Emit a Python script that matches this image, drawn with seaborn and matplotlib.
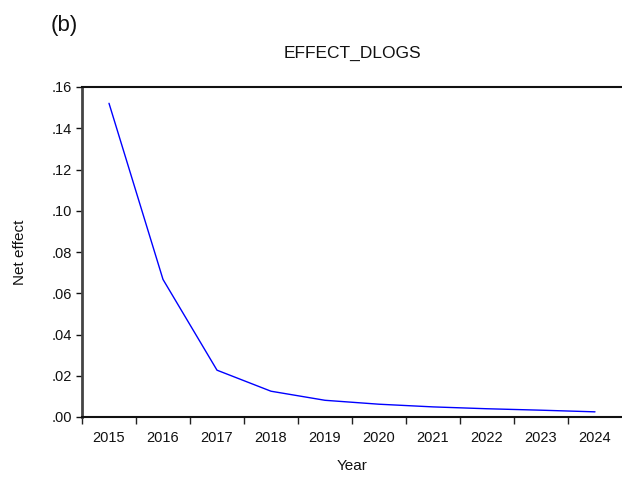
import matplotlib
matplotlib.use("Agg")
import matplotlib.pyplot as plt
import matplotlib.ticker as mticker
import seaborn as sns
import pandas as pd

years = [2015, 2016, 2017, 2018, 2019, 2020, 2021, 2022, 2023, 2024]
net_effect = [0.1521, 0.0667, 0.0227, 0.0125, 0.0081, 0.0062, 0.0049, 0.0040, 0.0033, 0.0025]
y_ticks = [0.00, 0.02, 0.04, 0.06, 0.08, 0.10, 0.12, 0.14, 0.16]

df = pd.DataFrame({"Year": years, "Net effect": net_effect})

sns.set_style("white")
plt.rcParams["font.family"] = ["Liberation Sans", "DejaVu Sans"]

W, H = 622, 479
fig = plt.figure(figsize=(W / 100, H / 100), dpi=100)
ax = fig.add_axes([82 / W, (H - 417) / H, 540 / W, 330 / H])

sns.lineplot(data=df, x="Year", y="Net effect", ax=ax, color="#0000ff", linewidth=1.0)

ax.set_xlim(years[0] - 0.5, years[-1] + 0.5)
ax.set_ylim(y_ticks[0], y_ticks[-1])

# year labels centred in their slots, tick marks on the slot boundaries
ax.set_xticks(years)
ax.set_xticklabels([str(y) for y in years])
ax.set_xticks([y - 0.5 for y in years], minor=True)
ax.tick_params(axis="x", which="major", length=0, pad=10, labelsize=10.5, colors="#111111")
ax.tick_params(axis="x", which="minor", length=5, width=1.0, direction="out", color="#222222", bottom=True)

ax.set_yticks(y_ticks)
ax.yaxis.set_major_formatter(mticker.FuncFormatter(lambda v, _: f"{v:.2f}".lstrip("0")))
ax.tick_params(axis="y", length=4, width=1.0, direction="out", left=True, pad=3,
               labelsize=10.5, colors="#111111")

for side in ["left", "bottom", "top"]:
    ax.spines[side].set_visible(True)
ax.spines["left"].set_color("#444444")
ax.spines["left"].set_linewidth(2.0)
ax.spines["bottom"].set_color("#111111")
ax.spines["bottom"].set_linewidth(1.5)
ax.spines["top"].set_color("#111111")
ax.spines["top"].set_linewidth(1.5)
ax.spines["right"].set_visible(False)

ax.set_xlabel("Year", fontsize=11, color="#111111")
ax.xaxis.set_label_coords(0.5, -0.127)
ax.set_ylabel("Net effect", fontsize=11, color="#111111")
ax.yaxis.set_label_coords(-0.102, 0.5)
ax.set_title("EFFECT_DLOGS", fontsize=12.5, pad=21, color="#111111")

fig.text(51 / W, 1 - 25 / H, "(b)", fontsize=16, va="center", ha="left", color="#111111")

fig.savefig("out.png", dpi=100)
